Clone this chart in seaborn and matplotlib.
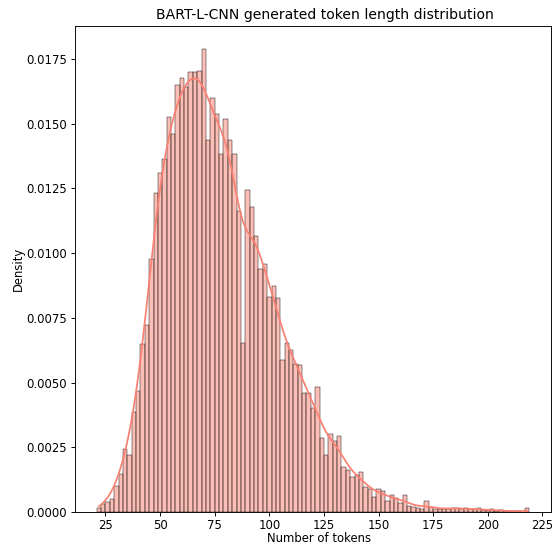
import numpy as np
import pandas as pd
import matplotlib
matplotlib.use("Agg")
import matplotlib.pyplot as plt
import seaborn as sns

# Bin centers (tokens) and bar heights (density)
token_bins = [22, 24, 26, 28, 30, 32, 34, 36, 38, 40, 42, 44,
              46, 48, 50, 52, 54, 56, 58, 60, 62, 64, 66, 68, 70,
              72, 74, 76, 78, 80, 82, 84, 86,
              88, 90, 92, 94, 96, 98, 100, 102, 104,
              106, 108, 110, 112, 114, 116, 118, 120, 122,
              124, 126, 128, 130, 132, 134, 136, 138, 140, 142, 144, 146, 148, 150,
              152, 154, 156, 158, 160, 162, 164, 166, 168, 170, 172, 174, 176, 178,
              180, 182, 184, 186, 188, 190, 192, 194, 196, 198, 200, 202, 204, 206,
              208, 210, 212, 214, 216, 218]
density = [0.00017, 0.00032, 0.00040, 0.00049, 0.00100, 0.00148, 0.00244, 0.00220,
           0.00386, 0.00469, 0.00650, 0.00724,
           0.00977, 0.01234, 0.01309, 0.01364, 0.01527, 0.01460, 0.01650, 0.01678,
           0.01640, 0.01698, 0.01698, 0.01705, 0.01787,
           0.01437, 0.01600, 0.01536, 0.01384, 0.01520, 0.01437, 0.01382, 0.01161,
           0.00652, 0.01245, 0.01180, 0.01067, 0.00938, 0.00959, 0.00830, 0.00874, 0.00826,
           0.00589, 0.00653, 0.00625, 0.00570, 0.00568, 0.00460, 0.00460, 0.00400, 0.00482,
           0.00284, 0.00219, 0.00303, 0.00274, 0.00294, 0.00175, 0.00162, 0.00136, 0.00143,
           0.00154, 0.00096, 0.00087, 0.00059, 0.00090,
           0.00081, 0.00041, 0.00064, 0.00054, 0.00036, 0.00066, 0.00023, 0.00020, 0.00017,
           0.00013, 0.00041, 0.00020, 0.00013, 0.00010,
           0.00010, 0.00011, 0.00017, 0.00017, 0.00013, 0.00014, 0.00010, 0.00010, 0.00014,
           0.00008, 0.00006, 0.00012, 0.00004, 0.00006,
           0.00005, 0.00003, 0.00002, 0.00002, 0.00000, 0.00017]

df = pd.DataFrame({"tokens": token_bins, "density": density})

DPI = 84
fig, ax = plt.subplots(figsize=(556 / DPI, 547 / DPI), dpi=DPI)
fig.subplots_adjust(left=0.135, right=0.991, top=0.952, bottom=0.064)

sns.histplot(data=df, x="tokens", weights="density", binwidth=2, binrange=(21, 219),
             stat="count", kde=True, color="salmon", kde_kws={"bw_adjust": 0.32}, ax=ax)

ax.set_title("BART-L-CNN generated token length distribution", x=0.526)
ax.set_xlabel("Number of tokens", labelpad=2)
ax.xaxis.set_label_coords(0.513, -0.042)
ax.set_ylabel("Density", labelpad=1)
ax.set_xticks([25, 50, 75, 100, 125, 150, 175, 200, 225])
ax.tick_params(axis="x", pad=2.5)

fig.savefig("out.png", dpi=DPI)
